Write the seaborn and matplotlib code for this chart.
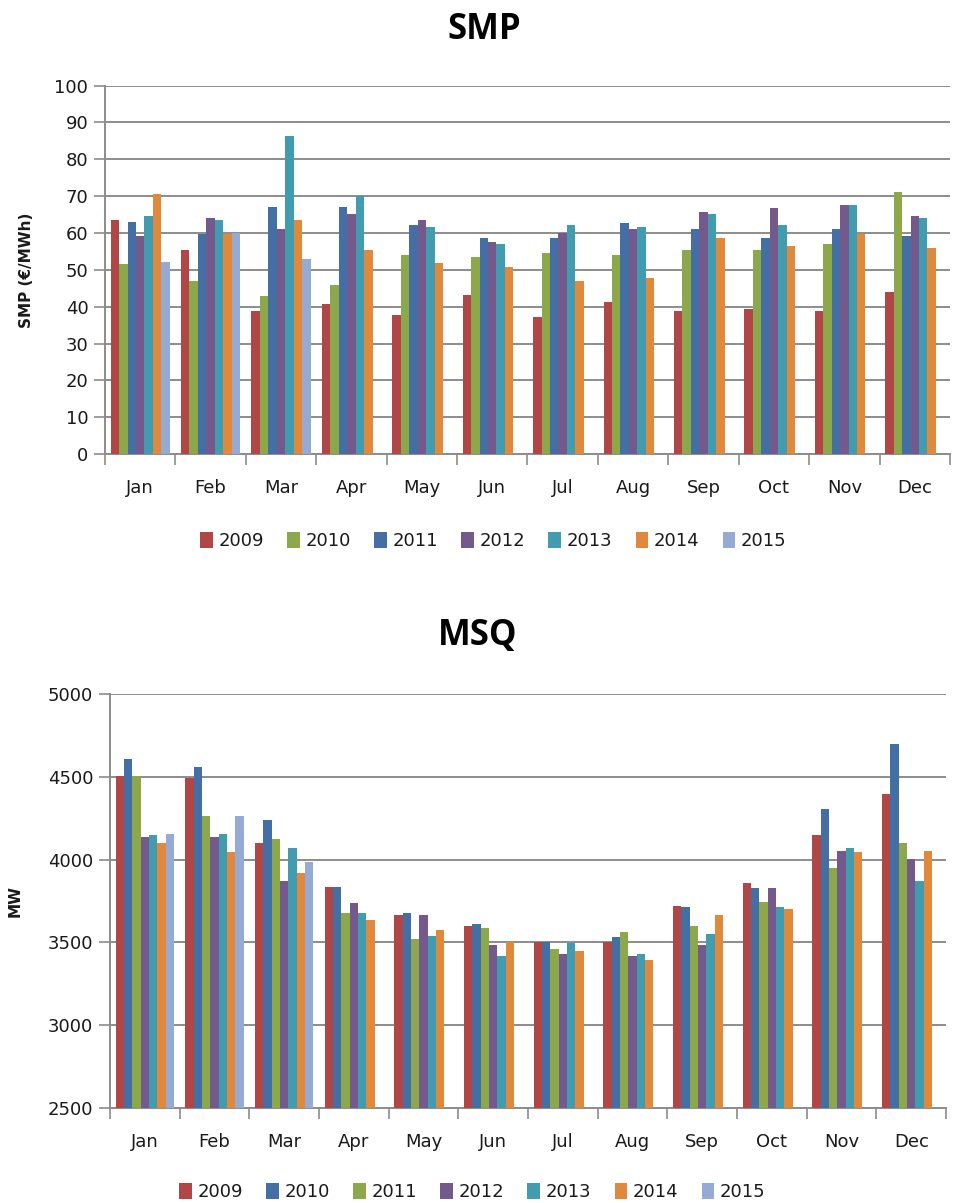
import numpy as np
import pandas as pd
import seaborn as sns
import matplotlib
matplotlib.use("Agg")
import matplotlib.pyplot as plt
from matplotlib.patches import Patch

months = ["Jan", "Feb", "Mar", "Apr", "May", "Jun",
          "Jul", "Aug", "Sep", "Oct", "Nov", "Dec"]
years = ["2009", "2010", "2011", "2012", "2013", "2014", "2015"]
nan = np.nan

# System marginal price, EUR/MWh
smp_2009 = [63.5, 55.5, 38.8, 40.8, 37.7, 43.3, 37.3, 41.4, 38.8, 39.5, 38.8, 43.9]
smp_2010 = [51.5, 46.9, 42.8, 45.9, 54.0, 53.5, 54.5, 54.0, 55.5, 55.5, 57.0, 71.1]
smp_2011 = [63.0, 59.8, 67.1, 67.1, 62.1, 58.6, 58.6, 62.6, 61.1, 58.6, 61.1, 59.1]
smp_2012 = [59.1, 64.2, 61.0, 65.1, 63.6, 57.6, 59.9, 61.1, 65.6, 66.7, 67.6, 64.6]
smp_2013 = [64.6, 63.6, 86.3, 70.0, 61.6, 57.0, 62.1, 61.6, 65.1, 62.1, 67.6, 64.2]
smp_2014 = [70.7, 59.8, 63.5, 55.5, 51.9, 50.9, 46.9, 47.9, 58.6, 56.5, 59.8, 56.0]
smp_2015 = [52.0, 59.9, 52.9, nan, nan, nan, nan, nan, nan, nan, nan, nan]

# Mean system quantity, MW
msq_2009 = [4505, 4490, 4101, 3837, 3667, 3599, 3502, 3502, 3722, 3861, 4147, 4399]
msq_2010 = [4605, 4558, 4238, 3837, 3680, 3609, 3502, 3530, 3712, 3827, 4308, 4696]
msq_2011 = [4503, 4262, 4123, 3680, 3518, 3589, 3462, 3565, 3599, 3746, 3952, 4101]
msq_2012 = [4135, 4135, 3873, 3736, 3667, 3484, 3428, 3415, 3484, 3827, 4054, 4006]
msq_2013 = [4147, 4157, 4067, 3680, 3540, 3415, 3496, 3428, 3553, 3712, 4067, 3873]
msq_2014 = [4101, 4044, 3919, 3633, 3577, 3502, 3450, 3393, 3667, 3702, 4044, 4054]
msq_2015 = [4157, 4262, 3988, nan, nan, nan, nan, nan, nan, nan, nan, nan]

smp_ticks = list(range(0, 101, 10))
msq_ticks = list(range(2500, 5001, 500))

RED, GREEN, BLUE = "#B04646", "#8CA84B", "#436FA5"
PURPLE, TEAL, ORANGE, LIGHT = "#745A8C", "#419CB0", "#E0883B", "#95ABD3"

smp_palette = dict(zip(years, [RED, GREEN, BLUE, PURPLE, TEAL, ORANGE, LIGHT]))
msq_palette = dict(zip(years, [RED, BLUE, GREEN, PURPLE, TEAL, ORANGE, LIGHT]))


def long_frame(series):
    rows = []
    for yr, vals in zip(years, series):
        for m, v in zip(months, vals):
            rows.append({"month": m, "year": yr, "value": v})
    return pd.DataFrame(rows)


smp_df = long_frame([smp_2009, smp_2010, smp_2011, smp_2012,
                     smp_2013, smp_2014, smp_2015])
msq_df = long_frame([msq_2009, msq_2010, msq_2011, msq_2012,
                     msq_2013, msq_2014, msq_2015])

sns.set_theme(style="white")
plt.rcParams["font.family"] = ["DejaVu Sans"]

GRID = "#8C8C8C"
TXT = "#1A1A1A"

fig = plt.figure(figsize=(9.58, 12.03), dpi=100)
ax1 = fig.add_axes([0.1096, 0.6226, 0.882, 0.3062])
ax2 = fig.add_axes([0.1148, 0.0790, 0.8727, 0.3441])


def style_axis(ax, df, palette, ticks, ylabel, ylabel_x):
    sns.barplot(data=df, x="month", y="value", hue="year", order=months,
                hue_order=years, palette=palette, width=0.84, errorbar=None,
                saturation=1, linewidth=0, legend=False, ax=ax, zorder=3)
    ax.set_ylim(ticks[0], ticks[-1])
    ax.set_xlim(-0.5, 11.5)
    ax.set_yticks(ticks)
    ax.set_yticklabels([str(t) for t in ticks], fontsize=13, color=TXT)
    ax.yaxis.grid(True, color=GRID, linewidth=1.4, zorder=0)
    ax.set_axisbelow(True)
    ax.set_xticks(range(12))
    ax.set_xticklabels(months, fontsize=13, color=TXT)
    ax.set_xticks(np.arange(-0.5, 12.0, 1.0), minor=True)
    ax.tick_params(axis="x", which="major", length=0, pad=18)
    ax.tick_params(axis="x", which="minor", length=8, width=1.2,
                   color=GRID, direction="out", bottom=True)
    ax.tick_params(axis="y", length=8, width=1.2, color=GRID,
                   direction="out", left=True, pad=4)
    for side in ("top", "right"):
        ax.spines[side].set_visible(False)
    for side in ("left", "bottom"):
        ax.spines[side].set_color(GRID)
        ax.spines[side].set_linewidth(1.4)
    ax.set_xlabel("")
    ax.set_ylabel("")
    fig.text(ylabel_x, ax.get_position().y0 + ax.get_position().height / 2,
             ylabel, rotation=90, ha="center", va="center",
             fontsize=11, fontweight="bold", color=TXT)


style_axis(ax1, smp_df, smp_palette, smp_ticks, "SMP (€/MWh)", 0.028)
style_axis(ax2, msq_df, msq_palette, msq_ticks, "MW", 0.016)

fig.text(0.505, 0.975, "SMP", ha="center", va="center", fontsize=25,
         fontweight="bold", family=["Open Sans", "DejaVu Sans"], color="#000000")
fig.text(0.499, 0.471, "MSQ", ha="center", va="center", fontsize=25,
         fontweight="bold", family=["Open Sans", "DejaVu Sans"], color="#000000")


def add_legend(palette, x, y):
    handles = [Patch(facecolor=palette[yr], edgecolor="none", label=yr)
               for yr in years]
    fig.legend(handles=handles, loc="center", bbox_to_anchor=(x, y), ncol=7,
               frameon=False, fontsize=13, handlelength=0.7, handleheight=1.0,
               handletextpad=0.3, columnspacing=1.3, labelcolor=TXT)


add_legend(smp_palette, 0.515, 1 - 541 / 1203)
add_legend(msq_palette, 0.493, 1 - 1192 / 1203)

fig.savefig("out.png", dpi=100, facecolor="white")
